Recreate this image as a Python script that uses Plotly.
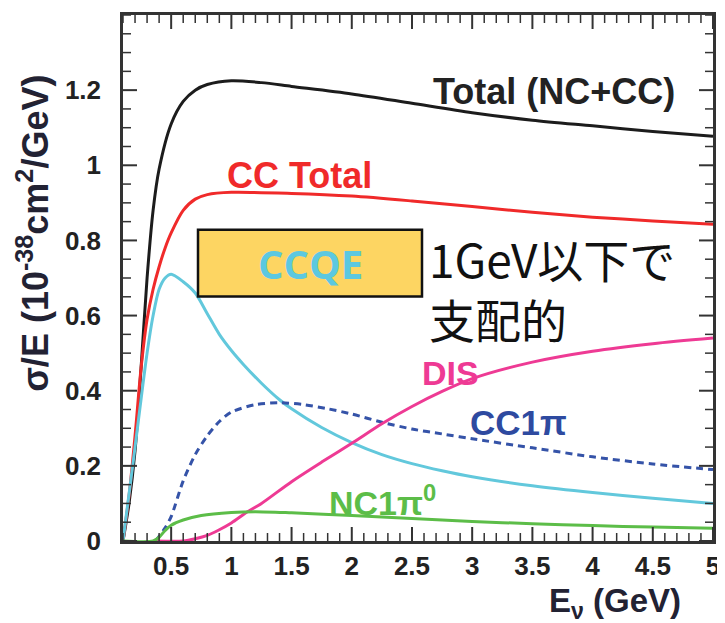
import plotly.graph_objects as go

# ---- data ----
total_x = [0.1, 0.15, 0.2, 0.25, 0.3, 0.35, 0.4, 0.5, 0.6, 0.7, 0.8, 1.0, 1.25, 1.5, 2.0, 2.5, 3.0, 3.5, 4.0, 4.5, 5.0]
total_y = [0.0, 0.1, 0.24, 0.46, 0.7, 0.88, 0.99, 1.11, 1.17, 1.2, 1.215, 1.225, 1.22, 1.21, 1.19, 1.165, 1.14, 1.12, 1.105, 1.09, 1.077]

cc_x = [0.1, 0.15, 0.2, 0.25, 0.3, 0.35, 0.4, 0.45, 0.5, 0.6, 0.7, 0.8, 1.0, 1.5, 2.0, 2.5, 3.0, 3.5, 4.0, 4.5, 5.0]
cc_y = [0.0, 0.12, 0.28, 0.46, 0.59, 0.67, 0.73, 0.78, 0.82, 0.88, 0.91, 0.922, 0.928, 0.925, 0.918, 0.905, 0.89, 0.875, 0.862, 0.852, 0.843]

ccqe_x = [0.1, 0.2, 0.3, 0.35, 0.4, 0.45, 0.5, 0.6, 0.7, 0.8, 0.9, 1.0, 1.1, 1.25, 1.4, 1.5, 1.75, 2.0, 2.25, 2.5, 2.75, 3.0, 3.5, 4.0, 4.5, 5.0]
ccqe_y = [0.0, 0.25, 0.5, 0.6, 0.67, 0.7, 0.71, 0.69, 0.66, 0.605, 0.55, 0.507, 0.47, 0.42, 0.376, 0.352, 0.302, 0.262, 0.23, 0.206, 0.187, 0.171, 0.147, 0.129, 0.114, 0.1]

cc1pi_x = [0.37, 0.45, 0.5, 0.6, 0.7, 0.8, 0.9, 1.0, 1.2, 1.4, 1.6, 1.8, 2.0, 2.25, 2.5, 2.75, 3.0, 3.5, 4.0, 4.5, 5.0]
cc1pi_y = [0.0, 0.035, 0.065, 0.16, 0.23, 0.28, 0.318, 0.343, 0.363, 0.368, 0.363, 0.352, 0.338, 0.316, 0.298, 0.285, 0.272, 0.248, 0.224, 0.205, 0.19]

dis_x = [0.38, 0.6, 0.7, 0.8, 0.9, 1.0, 1.13, 1.25, 1.5, 1.75, 2.0, 2.25, 2.5, 2.75, 3.0, 3.5, 4.0, 4.5, 5.0]
dis_y = [0.0, 0.0, 0.006, 0.015, 0.03, 0.048, 0.077, 0.1, 0.158, 0.21, 0.26, 0.312, 0.358, 0.398, 0.432, 0.476, 0.505, 0.525, 0.54]

nc1pi0_x = [0.1, 0.35, 0.4, 0.45, 0.5, 0.6, 0.75, 1.0, 1.2, 1.5, 2.0, 2.5, 3.0, 3.5, 4.0, 4.5, 5.0]
nc1pi0_y = [0.0, 0.0, 0.01, 0.028, 0.042, 0.056, 0.068, 0.076, 0.078, 0.075, 0.068, 0.06, 0.052, 0.046, 0.041, 0.037, 0.034]

x_ticks = [0.5, 1, 1.5, 2, 2.5, 3, 3.5, 4, 4.5, 5]
x_tick_labels = ["0.5", "1", "1.5", "2", "2.5", "3", "3.5", "4", "4.5", "5"]
y_ticks = [0, 0.2, 0.4, 0.6, 0.8, 1.0, 1.2]
y_tick_labels = ["0", "0.2", "0.4", "0.6", "0.8", "1", "1.2"]
x_minor_step = 0.1
y_minor_step = 0.05

# page body has an 8px default margin: work in screenshot pixels, convert
OFF = 8
W, H = 725 - OFF, 623 - OFF
L, R, T, B = 123, 713, 12, 541  # plot frame in screenshot pixels
X_RANGE = [0.1, 5.0]
Y_RANGE = [0, 1.4]


def px2paper_x(px):
    return (px - L) / float(R - L)


def px2paper_y(py):
    return (B - py) / float(B - T)


fig = go.Figure()
series = [
    (total_x, total_y, "#1c1c1c", "solid"),
    (cc_x, cc_y, "#f02a2a", "solid"),
    (ccqe_x, ccqe_y, "#62c8dc", "solid"),
    (cc1pi_x, cc1pi_y, "#3553a8", "7px,5px"),
    (dis_x, dis_y, "#ee3a94", "solid"),
    (nc1pi0_x, nc1pi0_y, "#5cbd48", "solid"),
]
for xs, ys, col, dash in series:
    fig.add_trace(go.Scatter(x=xs, y=ys, mode="lines",
                             line=dict(color=col, width=3, dash=dash, shape="spline", smoothing=0.8),
                             showlegend=False, hoverinfo="skip"))

tickfont = dict(family="Liberation Sans, Arial", size=26, color="#222222", weight="bold")
frame = dict(showline=True, linewidth=2.5, linecolor="#333333", mirror=True, ticks="",
             showgrid=False, zeroline=False, tickfont=tickfont)
fig.update_xaxes(range=X_RANGE, tickmode="array", tickvals=x_ticks, ticktext=x_tick_labels, **frame)
fig.update_yaxes(range=Y_RANGE, tickmode="array", tickvals=y_ticks, ticktext=y_tick_labels,
                 ticklabelstandoff=14, **frame)

# inside tick marks on all four sides (major + minor), positioned by the axes' data scale
TICK_COL = "#333333"


def tick_positions(lo, hi, step):
    n = int(round((hi - lo) / step))
    return [round(lo + i * step, 4) for i in range(n + 1)]


x_major_set = set(round(v, 4) for v in x_ticks)
for v in tick_positions(0.0, 5.0, x_minor_step):
    if v < X_RANGE[0] - 1e-9:
        continue
    major = round(v, 4) in x_major_set
    ln, wd = (14, 2) if major else (8, 1.5)
    for anchor, sign in ((0, 1), (1, -1)):
        fig.add_shape(type="line", xref="x", yref="paper", ysizemode="pixel", yanchor=anchor,
                      x0=v, x1=v, y0=0, y1=sign * ln, line=dict(color=TICK_COL, width=wd), layer="above")

y_major_set = set(round(v, 4) for v in y_ticks)
for v in tick_positions(Y_RANGE[0], Y_RANGE[1], y_minor_step):
    major = round(v, 4) in y_major_set
    ln, wd = (14, 2) if major else (8, 1.5)
    for anchor, sign in ((0, 1), (1, -1)):
        fig.add_shape(type="line", yref="y", xref="paper", xsizemode="pixel", xanchor=anchor,
                      y0=v, y1=v, x0=0, x1=sign * ln, line=dict(color=TICK_COL, width=wd), layer="above")

bold = dict(family="Liberation Sans, Arial", weight="bold")
annos = [
    dict(x=554, y=89, text="Total (NC+CC)", color="#222222", size=36),
    dict(x=299, y=173, text="CC Total", color="#f02a2a", size=36),
    dict(x=450, y=372, text="DIS", color="#ee3a94", size=34),
    dict(x=518, y=422, text="CC1π", color="#2e4aa0", size=35),
    dict(x=382, y=500, text="NC1π<sup>0</sup>", color="#5cbd48", size=34),
]
for a in annos:
    fig.add_annotation(x=px2paper_x(a["x"]), y=px2paper_y(a["y"]), xref="paper", yref="paper",
                       text=a["text"], showarrow=False, xanchor="center", yanchor="middle",
                       font=dict(color=a["color"], size=a["size"], **bold))

# CCQE box
fig.add_shape(type="rect", xref="paper", yref="paper",
              x0=px2paper_x(198), x1=px2paper_x(422), y0=px2paper_y(295), y1=px2paper_y(228),
              fillcolor="#fdd562", line=dict(color="#111111", width=2.5))
fig.add_annotation(x=px2paper_x(310), y=px2paper_y(262), xref="paper", yref="paper", text="CCQE",
                   showarrow=False, xanchor="center", yanchor="middle",
                   font=dict(family="Open Sans, Liberation Sans", size=40, color="#5cc8e0", weight="bold"))

# Japanese text
fig.add_annotation(x=px2paper_x(427), y=px2paper_y(287), xref="paper", yref="paper",
                   text="1GeV以下で<br>支配的", showarrow=False, xanchor="left", yanchor="middle", align="left",
                   font=dict(family="Noto Sans CJK JP", size=46, color="#111111"))

# axis titles
fig.add_annotation(x=px2paper_x(33), y=px2paper_y(232), xref="paper", yref="paper",
                   text="σ/E (10<sup>-38</sup>cm<sup>2</sup>/GeV)", textangle=-90, showarrow=False,
                   xanchor="center", yanchor="middle",
                   font=dict(color="#222233", size=36, **bold))
fig.add_annotation(x=px2paper_x(615), y=px2paper_y(603), xref="paper", yref="paper",
                   text="E<sub>ν</sub> (GeV)", showarrow=False, xanchor="center", yanchor="middle",
                   font=dict(color="#222233", size=33, **bold))

fig.update_layout(width=W, height=H,
                  margin=dict(l=L - OFF, r=(W + OFF) - R, t=T - OFF, b=(H + OFF) - B),
                  plot_bgcolor="white", paper_bgcolor="white")

fig.write_html("out.html")
